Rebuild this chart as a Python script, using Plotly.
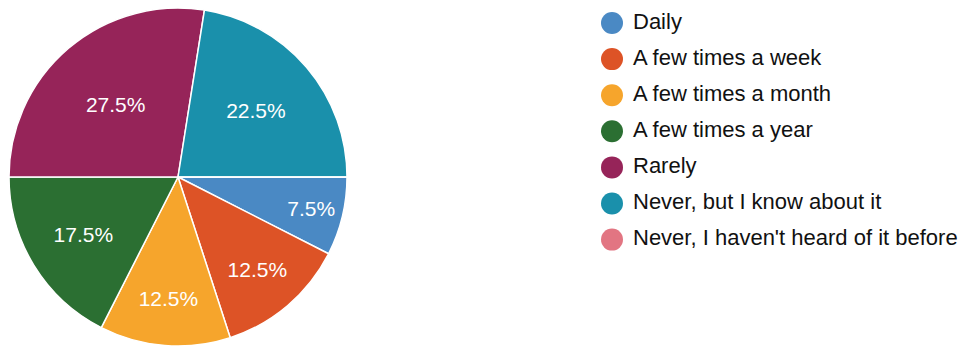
import plotly.graph_objects as go

categories = ["Daily", "A few times a week", "A few times a month", "A few times a year",
              "Rarely", "Never, but I know about it", "Never, I haven't heard of it before"]
percentages = [7.5, 12.5, 12.5, 17.5, 27.5, 22.5, 0.0]
colors = ["#4a89c4", "#dd5326", "#f6a52c", "#2b6f32", "#962459", "#1a90ab", "#e27582"]

W, H = 972, 347
FONT = "Liberation Sans, Arial, sans-serif"

labels_txt = [f"{p:.1f}%" if p > 0 else "" for p in percentages]

fig = go.Figure()
fig.add_trace(go.Pie(
    labels=categories, values=percentages, sort=False, direction="clockwise",
    rotation=90, marker=dict(colors=colors, line=dict(color="white", width=1.5)),
    text=labels_txt, textinfo="text", textposition="inside",
    insidetextorientation="horizontal",
    textfont=dict(family=FONT, size=21, color="white"),
    domain=dict(x=[9 / W, 347 / W], y=[1 / H, 339 / H]),
    showlegend=False, hoverinfo="skip",
))

# legend drawn as circles + labels
leg_idx = list(range(len(categories)))
fig.add_trace(go.Scatter(
    x=[0] * len(categories), y=leg_idx, mode="markers",
    marker=dict(size=22, color=colors, line=dict(width=0)),
    showlegend=False, hoverinfo="skip",
))
fig.add_trace(go.Scatter(
    x=[21] * len(categories), y=leg_idx, mode="text", text=categories,
    textposition="middle right",
    textfont=dict(family=FONT, size=22, color="#111111"),
    showlegend=False, hoverinfo="skip",
))

fig.update_layout(
    width=W, height=H, margin=dict(l=0, r=0, t=0, b=0),
    paper_bgcolor="white", plot_bgcolor="white",
    xaxis=dict(domain=[600 / W, 1], range=[-12, 360], visible=False, fixedrange=True),
    yaxis=dict(domain=[0, 1], range=[8.975, -0.637], visible=False, fixedrange=True),
)

fig.write_html("out.html")
